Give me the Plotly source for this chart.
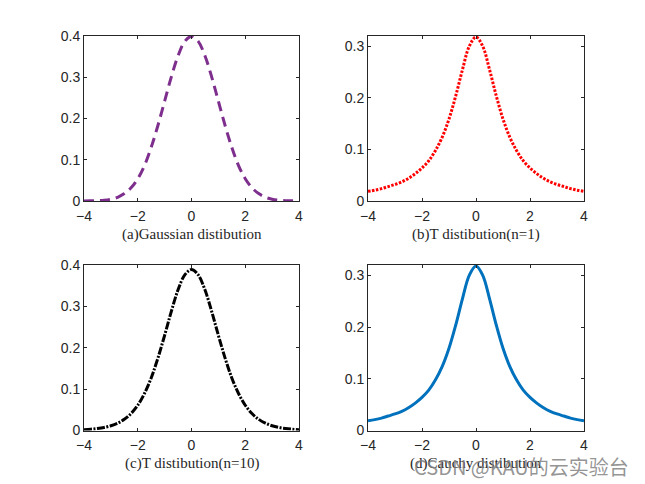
import plotly.graph_objects as go

# x sample positions (read along the axis)
x_vals = [-4, -3.75, -3.5, -3.25, -3, -2.75, -2.5, -2.25, -2, -1.75, -1.5, -1.25, -1, -0.75, -0.5, -0.25,
          0, 0.25, 0.5, 0.75, 1, 1.25, 1.5, 1.75, 2, 2.25, 2.5, 2.75, 3, 3.25, 3.5, 3.75, 4]

# (a) Gaussian curve values
gauss_half = [0.399, 0.387, 0.352, 0.301, 0.242, 0.183, 0.130, 0.086, 0.054, 0.032, 0.018, 0.009,
              0.0044, 0.002, 0.0009, 0.0004, 0.0001]
gauss_vals = gauss_half[::-1][:-1] + gauss_half

# (b) T distribution n=1
t1_half = [0.318, 0.300, 0.255, 0.204, 0.159, 0.124, 0.098, 0.078, 0.064, 0.053, 0.044, 0.037,
           0.032, 0.028, 0.024, 0.021, 0.0187]
t1_vals = t1_half[::-1][:-1] + t1_half

# (c) T distribution n=10
t10_half = [0.389, 0.376, 0.340, 0.288, 0.230, 0.175, 0.127, 0.0895, 0.061, 0.041, 0.027, 0.0176,
            0.0114, 0.0074, 0.0048, 0.0031, 0.0020]
t10_vals = t10_half[::-1][:-1] + t10_half

# (d) Cauchy distribution
cauchy_half = [0.318, 0.300, 0.255, 0.204, 0.159, 0.124, 0.098, 0.078, 0.064, 0.053, 0.044, 0.037,
               0.032, 0.028, 0.024, 0.021, 0.0187]
cauchy_vals = cauchy_half[::-1][:-1] + cauchy_half

x_ticks = [-4, -2, 0, 2, 4]
y_ticks_a = [0, 0.1, 0.2, 0.3, 0.4]
y_ticks_b = [0, 0.1, 0.2, 0.3]
labels = ["(a)Gaussian distibution", "(b)T distibution(n=1)", "(c)T distibution(n=10)", "(d)Cauchy distibution"]

W, H = 645, 484
fig = go.Figure()

panels = [
    dict(y=gauss_vals, color="#7E2F8E", dash="10px,6px", yr=[0, 0.4], yt=y_ticks_a,
         px=(84, 299), py=(36, 201)),
    dict(y=t1_vals, color="#FF0000", dash="2.5px,1.5px", yr=[0, 0.32], yt=y_ticks_b,
         px=(368, 584), py=(36, 201)),
    dict(y=t10_vals, color="#000000", dash="8px,1.5px,2px,1.5px", yr=[0, 0.4], yt=y_ticks_a,
         px=(84, 299), py=(265, 430.5)),
    dict(y=cauchy_vals, color="#0072BD", dash="solid", yr=[0, 0.32], yt=y_ticks_b,
         px=(368, 584), py=(265, 430.5)),
]

axis_common = dict(showgrid=False, zeroline=False, showline=True, linecolor="#262626", linewidth=1,
                   mirror="allticks", ticks="inside", ticklen=3, tickcolor="#262626", automargin=False,
                   tickfont=dict(family="Liberation Sans, Arial", size=14, color="#262626"))

layout = {}
for i, p in enumerate(panels):
    n = "" if i == 0 else str(i + 1)
    fig.add_trace(go.Scatter(x=x_vals, y=p["y"], mode="lines", xaxis="x" + n, yaxis="y" + n,
                             line=dict(color=p["color"], width=3, dash=p["dash"], shape="spline",
                                       smoothing=1.0),
                             showlegend=False, hoverinfo="skip"))
    layout["xaxis" + n] = dict(domain=[p["px"][0] / W, p["px"][1] / W], range=[-4, 4],
                               tickvals=x_ticks, anchor="y" + n, ticklabelstandoff=2, **axis_common)
    layout["yaxis" + n] = dict(domain=[1 - p["py"][1] / H, 1 - p["py"][0] / H], range=p["yr"],
                               tickvals=p["yt"], anchor="x" + n, **axis_common)

fig.update_layout(**layout)

annotations = []
for i, p in enumerate(panels):
    cx = (p["px"][0] + p["px"][1]) / 2 / W
    cy = 1 - (p["py"][1] + 33) / H
    annotations.append(dict(text=labels[i], x=cx, y=cy, xref="paper", yref="paper",
                            showarrow=False, xanchor="center", yanchor="middle",
                            font=dict(family="Liberation Serif, Times New Roman", size=15,
                                      color="#262626")))
annotations.append(dict(text="CSDN @KAU的云实验台", x=631 / W, y=1 - 466 / H, xref="paper", yref="paper",
                        showarrow=False, xanchor="right", yanchor="middle",
                        font=dict(family="Noto Sans CJK SC", size=20, color="rgba(130,130,130,0.85)")))

fig.update_layout(width=W, height=H, margin=dict(l=0, r=0, t=0, b=0, pad=0), autosize=False,
                  paper_bgcolor="white", plot_bgcolor="white", annotations=annotations)

fig.write_html("out.html", config={"displayModeBar": False, "staticPlot": True},
               post_script="document.body.style.margin='0';document.body.style.overflow='hidden';")
